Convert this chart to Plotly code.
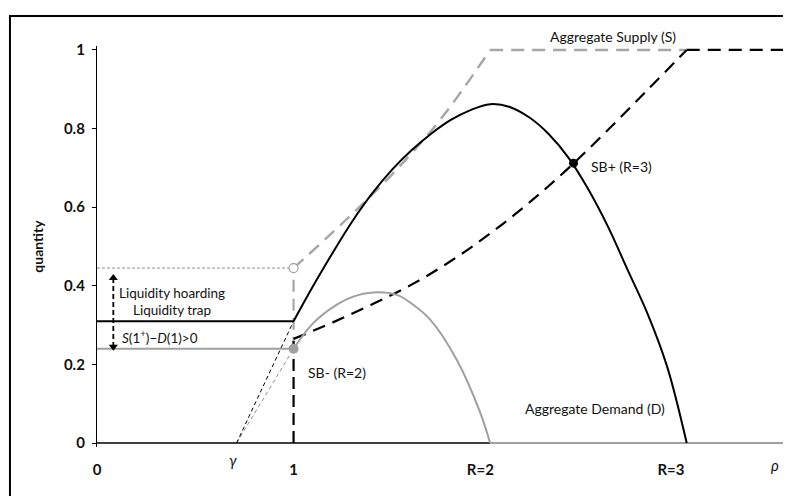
import plotly.graph_objects as go

# --- data (rho on x, quantity on y) ---
gamma = 0.71

# aggregate demand, R=3 (black solid)
dem3_rho = [1.0, 1.1, 1.2, 1.3, 1.4, 1.5, 1.6, 1.7, 1.8, 1.9, 2.0, 2.1, 2.2, 2.3, 2.4,
            2.5, 2.6, 2.7, 2.8, 2.9, 3.0]
dem3_q = [0.31, 0.40, 0.485, 0.565, 0.635, 0.695, 0.745, 0.787, 0.822, 0.847, 0.862, 0.855,
          0.828, 0.785, 0.725, 0.645, 0.55, 0.44, 0.33, 0.195, 0.0]

# aggregate demand, R=2 (grey solid), then zero beyond rho=2
dem2_rho = [1.0, 1.1, 1.22, 1.3, 1.406, 1.525, 1.6, 1.695, 1.83, 1.95, 2.0]
dem2_q = [0.24, 0.305, 0.352, 0.372, 0.383, 0.377, 0.355, 0.314, 0.212, 0.077, 0.0]
dem2_tail_rho = [2.0, 3.5]
dem2_tail_q = [0.0, 0.0]

# aggregate supply, R=2 (grey dashed): rising part, then flat at 1
sup2_rho = [1.0, 1.25, 1.5, 1.75, 2.0]
sup2_q = [0.445, 0.56, 0.683, 0.825, 1.0]
sup2_flat_rho = [2.0, 3.0]
sup2_flat_q = [1.0, 1.0]

# aggregate supply, R=3 (black dashed): rising part, then flat at 1
sup3_rho = [1.0, 1.2, 1.4, 1.6, 1.8, 2.0, 2.2, 2.4, 2.6, 2.8, 3.0]
sup3_q = [0.265, 0.307, 0.353, 0.403, 0.463, 0.533, 0.612, 0.70, 0.797, 0.898, 1.0]
sup3_flat_rho = [3.0, 3.5]
sup3_flat_q = [1.0, 1.0]

# thin dashed extensions from gamma to rho=1
ext3_rho = [gamma, 1.0]
ext3_q = [0.0, 0.31]
ext2_rho = [gamma, 1.0]
ext2_q = [0.0, 0.24]

# base line along q=0
base_rho = [0.0, 2.0]
base_q = [0.0, 0.0]

# levels at rho=1
q_hoard = 0.445     # S(1+) with R=2
q_trap = 0.31       # D(1) with R=3
q_sbm = 0.24        # SB- level
q_jump3 = 0.265     # start of R=3 supply

# equilibria
sb_plus = (2.424, 0.712)
sb_minus = (1.0, 0.24)

# arrow marking the gap
arrow_rho = 0.083
arrow_q = [0.42, 0.245]

x_tickvals = [0, 1, 1.95, 2.92]
x_ticktext = ["<b>0</b>", "<b>1</b>", "<b>R=2</b>", "<b>R=3</b>"]

Y_LO, Y_HI = -0.01, 1.01

BLACK = "#000000"
GREY = "#a0a0a0"
GREY_D = "#a6a6a6"
LIGHT = "#c0c0c0"
FONT = "Lato"

fig = go.Figure()

def line(x, y, color, width, dash="solid", shape="linear"):
    fig.add_trace(go.Scatter(x=x, y=y, mode="lines", hoverinfo="skip",
                             line=dict(color=color, width=width, dash=dash, shape=shape,
                                       smoothing=1.0)))

# verticals at rho=1
line([1.0, 1.0], [q_sbm, q_hoard], GREY_D, 2.2, "12px,7px")
line([1.0, 1.0], [0.0, q_jump3], BLACK, 2.2, "12px,6px")

# horizontal levels
line([0.0, 1.0], [q_hoard, q_hoard], LIGHT, 1.6, "3px,2px")
line([0.0, 1.0], [q_trap, q_trap], BLACK, 2)
line([0.0, 1.0], [q_sbm, q_sbm], GREY, 2)

# thin extensions
line(ext2_rho, ext2_q, "#909090", 1, "4px,3px")
line(ext3_rho, ext3_q, BLACK, 1, "4px,3px")

# base line
line(base_rho, base_q, BLACK, 1.6)

# supply curves
line(sup2_rho, sup2_q, GREY_D, 2.4, "13px,8px", "spline")
line(sup2_flat_rho, sup2_flat_q, GREY_D, 2.4, "13px,8px")
line(sup3_rho, sup3_q, BLACK, 2.2, "13px,8px", "spline")
line(sup3_flat_rho, sup3_flat_q, BLACK, 2.2, "13px,8px")

# demand curves
line(dem2_rho, dem2_q, GREY, 2, shape="spline")
line(dem2_tail_rho, dem2_tail_q, GREY, 2)
line(dem3_rho, dem3_q, BLACK, 2, shape="spline")

# gap arrow
fig.add_trace(go.Scatter(x=[arrow_rho, arrow_rho], y=arrow_q, mode="lines+markers",
                         hoverinfo="skip",
                         line=dict(color=BLACK, width=1.8, dash="5px,3px"),
                         marker=dict(symbol=["triangle-up", "triangle-down"], size=8,
                                     color=BLACK)))

# points
fig.add_trace(go.Scatter(x=[1.0], y=[q_hoard], mode="markers", hoverinfo="skip",
                         marker=dict(symbol="circle", size=9, color="white",
                                     line=dict(color=GREY, width=1.2))))
fig.add_trace(go.Scatter(x=[sb_minus[0]], y=[sb_minus[1]], mode="markers", hoverinfo="skip",
                         marker=dict(symbol="circle", size=10, color=GREY)))
fig.add_trace(go.Scatter(x=[sb_plus[0]], y=[sb_plus[1]], mode="markers", hoverinfo="skip",
                         marker=dict(symbol="circle", size=9, color=BLACK)))

def to_paper(v):
    return (v - Y_LO) / (Y_HI - Y_LO)

notes = [
    dict(x=0.38, y=0.382, text="Liquidity hoarding", xanchor="center", size=13.5),
    dict(x=0.38, y=0.339, text="Liquidity trap", xanchor="center", size=13.5),
    dict(x=0.115, y=0.27, text="<i>S</i>(1<sup>+</sup>)−<i>D</i>(1)&gt;0", xanchor="left", size=13.5),
    dict(x=1.062, y=0.18, text="SB- (R=2)", xanchor="left", size=14),
    dict(x=2.505, y=0.703, text="SB+ (R=3)", xanchor="left", size=14),
    dict(x=2.623, y=1.034, text="Aggregate Supply (S)", xanchor="center", size=14),
    dict(x=2.534, y=0.088, text="Aggregate Demand (D)", xanchor="center", size=14),
    dict(x=0.69, y=-0.043, text="<i>γ</i>", xanchor="center", size=15),
    dict(x=3.45, y=-0.055, text="<i>ρ</i>", xanchor="center", size=15),
]
for n in notes:
    fig.add_annotation(x=n["x"], y=to_paper(n["y"]), yref="paper", text=n["text"],
                       xanchor=n["xanchor"], yanchor="middle", showarrow=False,
                       font=dict(family=FONT, size=n["size"], color="#111111"))

# outer frame (right/bottom fall outside the picture)
fig.add_shape(type="rect", xref="paper", yref="paper", x0=-0.1265, x1=1.2, y0=-0.3, y1=1.075,
              line=dict(color=BLACK, width=2))

# the page body adds an 8px offset, so the figure is sized to the visible window
fig.update_layout(
    template="none",
    width=783, height=488,
    margin=dict(l=89, r=6, t=38, b=49),
    paper_bgcolor="white", plot_bgcolor="white",
    showlegend=False,
    font=dict(family=FONT, size=14, color="#111111"),
    xaxis=dict(range=[0, 3.5], showgrid=False, zeroline=False, showline=False,
               automargin=False,
               tickvals=x_tickvals, ticktext=x_ticktext, ticks="outside",
               ticklen=9, tickcolor="rgba(0,0,0,0)",
               tickfont=dict(family=FONT, size=15, color="#111111")),
    yaxis=dict(range=[Y_LO, Y_HI], showgrid=False, zeroline=False, showline=True,
               automargin=False,
               linecolor=BLACK, linewidth=1.3, ticks="outside", ticklen=4,
               tickcolor=BLACK, tickwidth=1.3, tickvals=[0, 0.2, 0.4, 0.6, 0.8, 1],
               ticklabelstandoff=4,
               tickfont=dict(family=FONT, size=15, color="#111111", weight="bold"),
               title=dict(text="<b>quantity</b>", standoff=16,
                          font=dict(family=FONT, size=14, color="#111111"))),
)

fig.write_html("out.html")
